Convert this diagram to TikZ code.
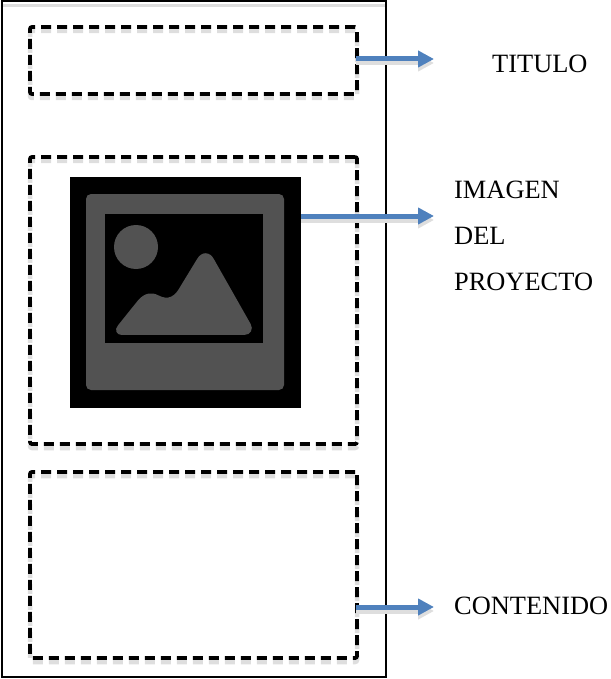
\documentclass[tikz,border=0pt]{standalone}
\usepackage{fontspec}
\setmainfont{Liberation Serif}
\usepackage{tikz}
\usetikzlibrary{arrows.meta}
\definecolor{flecha}{RGB}{79,129,189}
\definecolor{icono}{RGB}{82,82,82}
\tikzstyle{zona}      = [minimum width=327pt, inner sep=0pt, outer sep=0pt, rounded corners=2pt, draw=black, line width=3.8pt, dash pattern=on 10pt off 6pt,
	preaction={draw=black!13, line width=4.5pt, transform canvas={yshift=-4pt}}]
\tikzstyle{arrow}     = [draw=flecha, line width=5pt, -{Triangle[length=16pt,width=16pt]}, preaction={draw=black!13, line width=5pt, transform canvas={yshift=-4pt}}]
\tikzstyle{etiqueta}  = [anchor=west, inner sep=0pt, font=\fontsize{26.4}{30}\selectfont]

\begin{document}
\begin{tikzpicture}[x=1pt,y=-1pt]
	\useasboundingbox (0,0) rectangle (610,679);

	\draw[black!13, line width=3pt] (3,6) -- (385,6);
	\node[draw=black, line width=1.6pt, minimum width=384pt, minimum height=676pt, inner sep=0pt] (hoja) at (194,339) {};

	\node[zona, minimum height=67pt] (titulo) at (193.5,60.5) {};
	\node[zona, minimum height=287pt] (imagen) at (193.5,300.5) {};
	\node[zona, minimum height=186pt] (contenido) at (193.5,565) {};

	% icono
	\node[fill=black, minimum size=231pt, inner sep=0pt] (foto) at (185.5,292.5) {};
	\fill[icono, rounded corners=5pt] (86,194) rectangle (284,390);
	\fill[black] (105,214) rectangle (263,343);
	\fill[icono] (136,247) circle (22);
	\begin{scope}[shift={(60,170)},x=0.3333pt,y=-0.3333pt]
		\fill[icono] (185,495) -- (552,495) .. controls (572,495) and (581,478) .. (572,462)
			-- (462,268) .. controls (450,244) and (425,244) .. (412,266)
			-- (362,348) .. controls (345,380) and (325,392) .. (295,376)
			.. controls (275,366) and (255,368) .. (235,390)
			-- (174,466) .. controls (162,480) and (170,495) .. (185,495) -- cycle;
	\end{scope}

	\node[etiqueta] (ltitulo) at (492,63.5) {TITULO};
	\node[etiqueta] (limagen) at (454,190) {IMAGEN};
	\node[etiqueta] (ldel) at (454,236) {DEL};
	\node[etiqueta] (lproyecto) at (454,282) {PROYECTO};
	\node[etiqueta] (lcontenido) at (454,606) {CONTENIDO};

	\coordinate (a1) at (356,59);
	\coordinate (b1) at (434,59);
	\coordinate (a2) at (foto.east |- 0,216);
	\coordinate (b2) at (434,216);
	\coordinate (a3) at (356,607);
	\coordinate (b3) at (434,607);
	\draw[arrow] (a1) -- (b1);
	\draw[arrow] (a2) -- (b2);
	\draw[arrow] (a3) -- (b3);
\end{tikzpicture}
\end{document}
